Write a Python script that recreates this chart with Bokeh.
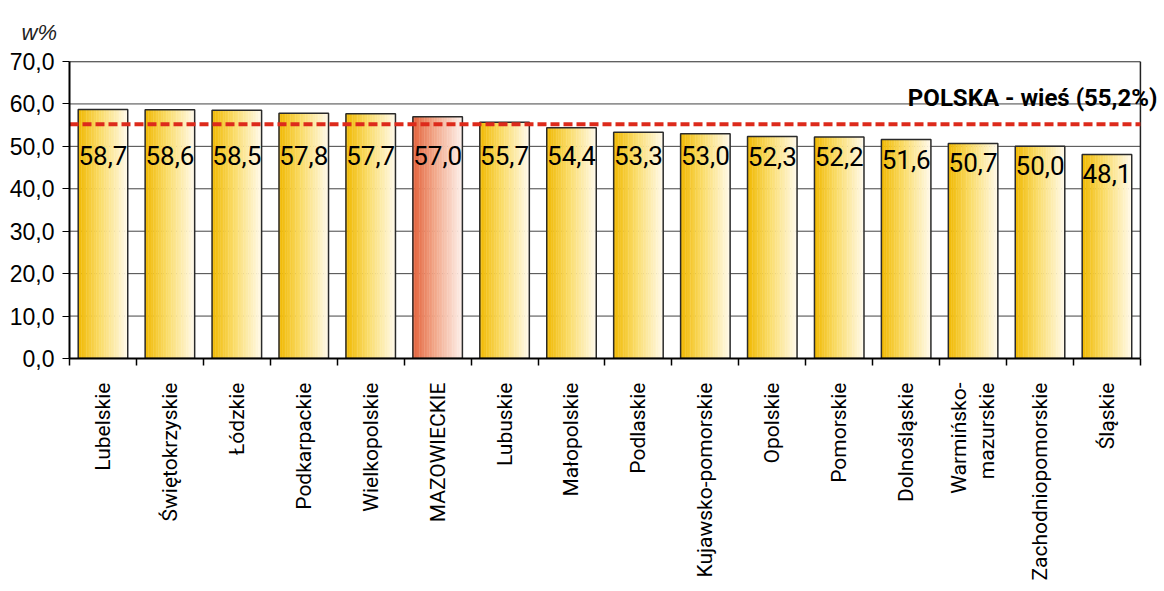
from bokeh.plotting import figure
from bokeh.models import (Range1d, FixedTicker, CustomJSTickFormatter, Label,
                          ColumnDataSource, Title)
from bokeh.core.properties import value
from bokeh.embed import file_html
from bokeh.resources import INLINE

# ---- data ----
regions = ["Lubelskie", "Świętokrzyskie", "Łódzkie", "Podkarpackie", "Wielkopolskie",
           "MAZOWIECKIE", "Lubuskie", "Małopolskie", "Podlaskie", "Kujawsko-pomorskie",
           "Opolskie", "Pomorskie", "Dolnośląskie", "Warmińsko-\nmazurskie",
           "Zachodniopomorskie", "Śląskie"]
shares = [58.7, 58.6, 58.5, 57.8, 57.7, 57.0, 55.7, 54.4, 53.3, 53.0,
          52.3, 52.2, 51.6, 50.7, 50.0, 48.1]
highlight = "MAZOWIECKIE"
polska_value = 55.2
polska_label = "POLSKA - wieś (55,2%)"
y_ticks = [0, 10, 20, 30, 40, 50, 60, 70]
y_unit = "w%"

# ---- style ----
COND = "Roboto"
REG = "Liberation Sans"
gold_stops = [(0.0, (240, 184, 0)), (0.45, (250, 220, 105)), (1.0, (255, 250, 236))]
red_stops = [(0.0, (227, 98, 60)), (0.45, (242, 168, 138)), (1.0, (253, 241, 236))]


def interp(stops, t):
    for (t0, c0), (t1, c1) in zip(stops[:-1], stops[1:]):
        if t <= t1:
            f = (t - t0) / (t1 - t0)
            return "#%02x%02x%02x" % tuple(int(round(a + (b - a) * f)) for a, b in zip(c0, c1))
    return "#%02x%02x%02x" % stops[-1][1]


n = len(regions)
centers = [i + 0.5 for i in range(n)]
bw = 0.74
N = 30
ymax = y_ticks[-1]

sx, stop_, scol = [], [], []
for c, v, r in zip(centers, shares, regions):
    stops = red_stops if r == highlight else gold_stops
    for j in range(N):
        t = (j + 0.5) / N
        sx.append(c - bw / 2 + t * bw)
        stop_.append(v)
        scol.append(interp(stops, t))
strips = ColumnDataSource(dict(x=sx, top=stop_, color=scol))

p = figure(width=1164, height=591, x_range=Range1d(0, n + 0.3), y_range=Range1d(0, ymax),
           output_backend="svg", toolbar_location=None,
           min_border_left=69, min_border_right=4, min_border_top=61, min_border_bottom=233)
p.background_fill_color = "white"
p.border_fill_color = "white"
p.outline_line_color = None
p.xgrid.visible = False
p.ygrid.visible = False

# gridlines (only across the category area)
p.segment(x0=[0] * len(y_ticks), x1=[n] * len(y_ticks), y0=y_ticks, y1=y_ticks,
          line_color="#444444", line_width=1)
# right border and top border
p.segment(x0=[n, 0], x1=[n, n], y0=[0, ymax], y1=[ymax, ymax],
          line_color="#222222", line_width=1.5)

p.vbar(x="x", top="top", bottom=0, width=bw / N * 1.2, source=strips,
       fill_color="color", line_color=None)
p.vbar(x=centers, top=shares, bottom=0, width=bw, fill_color=None,
       line_color="#2a2a2a", line_width=1.5)

# data labels
lab_y = [min(v - 4.6, 47.8) for v in shares]
lab_txt = [("%.1f" % v).replace(".", ",") for v in shares]
p.text(x=centers, y=lab_y, text=lab_txt, text_align="center", text_baseline="middle",
       text_font=value(COND), text_font_size="26px", text_color="black")

# reference line
p.segment(x0=[0], x1=[n], y0=[polska_value], y1=[polska_value],
          line_color="#DD2A1B", line_width=4, line_dash="9 4")
p.add_layout(Label(x=n, y=polska_value + 6.1, x_offset=17, text=polska_label,
                   text_align="right", text_baseline="alphabetic",
                   text_font=COND, text_font_style="bold", text_font_size="24px",
                   text_color="black"))

# unit label above the y axis
p.add_layout(Title(text=y_unit, align="left", offset=-48, standoff=33,
                   text_font=REG, text_font_style="italic", text_font_size="22px",
                   text_color="#222222"), "above")

# axes
ya = p.yaxis[0]
ya.ticker = FixedTicker(ticks=y_ticks)
ya.formatter = CustomJSTickFormatter(code="return tick.toFixed(1).replace('.', ',');")
ya.major_label_text_font = REG
ya.major_label_text_font_size = "23px"
ya.major_label_text_color = "black"
ya.axis_line_color = "black"
ya.axis_line_width = 2
ya.major_tick_out = 7
ya.major_tick_in = 0
ya.major_tick_line_color = "black"
ya.minor_tick_line_color = None
ya.major_label_standoff = 8

xa = p.xaxis[0]
xa.bounds = (0, n)
xa.ticker = FixedTicker(ticks=centers, minor_ticks=list(range(n + 1)))
xa.major_label_overrides = {c: r for c, r in zip(centers, regions)}
xa.major_label_orientation = 3.14159265 / 2
xa.major_label_text_font = COND
xa.major_label_text_font_size = "21px"
xa.major_label_text_color = "black"
xa.axis_line_color = "black"
xa.axis_line_width = 2
xa.major_tick_out = 0
xa.major_tick_in = 0
xa.minor_tick_out = 7
xa.minor_tick_in = 0
xa.minor_tick_line_color = "black"
xa.minor_tick_line_width = 1.5
xa.major_label_standoff = 17

open("out.html", "w").write(file_html(p, INLINE))
